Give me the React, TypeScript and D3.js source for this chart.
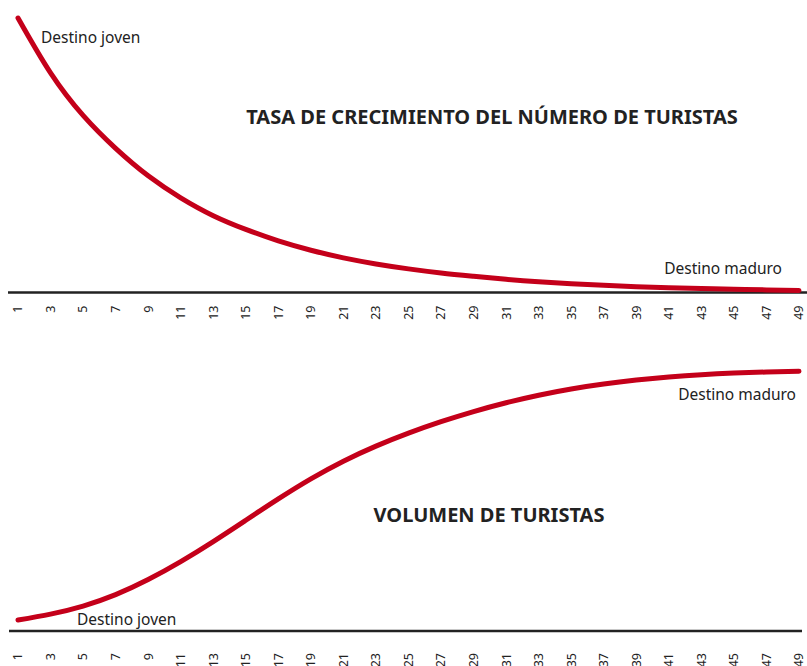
import React from "react";
import * as d3 from "d3";

const periods = [1, 3, 5, 7, 9, 11, 13, 15, 17, 19, 21, 23, 25, 27, 29, 31, 33, 35, 37, 39, 41, 43, 45, 47, 49];
const tickLabels = periods.map(String);

const growthRate = [100, 80, 64.5, 52.5, 42.5, 34.5, 28, 23, 18.8, 15.4, 12.6, 10.4, 8.6, 7.1, 5.9, 4.8, 3.9, 3.2, 2.6, 2.1, 1.75, 1.45, 1.2, 0.95, 0.75];
const touristVolume = [4.2, 6.5, 9.6, 14.0, 19.8, 26.7, 34.4, 42.6, 50.8, 58.5, 65.3, 71.1, 76.1, 80.5, 84.4, 87.8, 90.7, 93.1, 95.0, 96.5, 97.7, 98.6, 99.2, 99.6, 99.9];

const titleTop = "TASA DE CRECIMIENTO DEL NÚMERO DE TURISTAS";
const titleBottom = "VOLUMEN DE TURISTAS";
const labelYoung = "Destino joven";
const labelMature = "Destino maduro";

const W = 807;
const H = 666;
const RED = "#c4001a";
const INK = "#222222";
const FONT = "'Noto Sans', 'Open Sans', sans-serif";

export default function App() {
  const x = d3.scaleLinear().domain([1, 49]).range([18, 799]);
  const yTop = d3.scaleLinear().domain([0, 100]).range([292.5, 18]);
  const yBot = d3.scaleLinear().domain([0, 100]).range([631, 371]);

  const lineTop = d3
    .line<number>()
    .x((_, i) => x(periods[i]))
    .y((d) => yTop(d))
    .curve(d3.curveNatural);
  const lineBot = d3
    .line<number>()
    .x((_, i) => x(periods[i]))
    .y((d) => yBot(d))
    .curve(d3.curveNatural);

  const axisLabels = (axisY: number, offset: number) =>
    tickLabels.map((t, i) => {
      const tx = x(periods[i]);
      const ty = axisY + offset;
      return (
        <text
          key={t}
          transform={`translate(${tx},${ty}) rotate(-90)`}
          textAnchor="end"
          dy="0.35em"
          fontSize={12.5}
          fill={INK}
          fontFamily={FONT}
        >
          {t}
        </text>
      );
    });

  return (
    <svg
      width={W}
      height={H}
      style={{ position: "absolute", left: 0, top: 0, background: "#fff" }}
    >
      {/* top chart */}
      <line x1={8} x2={807} y1={yTop(0)} y2={yTop(0)} stroke={INK} strokeWidth={2.5} />
      <path d={lineTop(growthRate) || ""} fill="none" stroke={RED} strokeWidth={5} strokeLinecap="round" />
      {axisLabels(yTop(0), 13)}
      <text x={492} y={124} textAnchor="middle" fontSize={20} fontWeight="bold" fill={INK} fontFamily={FONT}>
        {titleTop}
      </text>
      <text x={41} y={43} fontSize={15.5} fill={INK} fontFamily={FONT}>
        {labelYoung}
      </text>
      <text x={782} y={274} textAnchor="end" fontSize={15.5} fill={INK} fontFamily={FONT}>
        {labelMature}
      </text>

      {/* bottom chart */}
      <line x1={9} x2={802} y1={yBot(0)} y2={yBot(0)} stroke={INK} strokeWidth={2.5} />
      <path d={lineBot(touristVolume) || ""} fill="none" stroke={RED} strokeWidth={5} strokeLinecap="round" />
      {axisLabels(yBot(0), 22)}
      <text x={489} y={522} textAnchor="middle" fontSize={20} fontWeight="bold" fill={INK} fontFamily={FONT}>
        {titleBottom}
      </text>
      <text x={77} y={625} fontSize={15.5} fill={INK} fontFamily={FONT}>
        {labelYoung}
      </text>
      <text x={796} y={400} textAnchor="end" fontSize={15.5} fill={INK} fontFamily={FONT}>
        {labelMature}
      </text>
    </svg>
  );
}
